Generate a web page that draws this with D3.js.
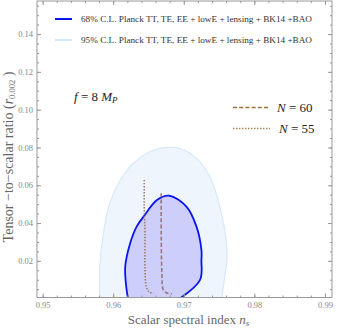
<!DOCTYPE html>
<html>
<head>
<meta charset="utf-8">
<script src="https://cdn.jsdelivr.net/npm/d3@7"></script>
<style>
  body { margin: 0; background: #fff; }
  svg { display: block; }
  text { font-family: "Liberation Serif", "DejaVu Serif", serif; }
</style>
</head>
<body>
<svg id="chart" width="338" height="330"></svg>
<script>
// contours, [n_s, r]
var contour95 = [
  [0.9581, 0.0], [0.9581, 0.0169], [0.9586, 0.0346], [0.9595, 0.0504], [0.9610, 0.0628],
  [0.9628, 0.0716], [0.9652, 0.0777], [0.9672, 0.0799], [0.9694, 0.0795], [0.9718, 0.0742],
  [0.9737, 0.0645], [0.9751, 0.0486], [0.9760, 0.0310], [0.9761, 0.0205], [0.9756, 0.0063],
  [0.9754, 0.0]
];
var contour68 = [
  [0.9621, 0.0], [0.9619, 0.0046], [0.9617, 0.0169], [0.9624, 0.0293], [0.9633, 0.0380],
  [0.9643, 0.0434], [0.9662, 0.0522], [0.9679, 0.0545], [0.9704, 0.0486], [0.9718, 0.0381],
  [0.9725, 0.0257], [0.9725, 0.0205], [0.9723, 0.0099], [0.9694, 0.0]
];
var curveN60 = [
  [0.9668, 0.0557], [0.9668, 0.0346], [0.9669, 0.0134], [0.9671, 0.0046], [0.9676, 0.0030], [0.9683, 0.0025]
];
var curveN55 = [
  [0.9644, 0.0628], [0.9644, 0.0486], [0.9645, 0.0346], [0.9645, 0.0169], [0.9647, 0.0063],
  [0.9651, 0.0035], [0.9657, 0.0029]
];
var xTicks = [0.95, 0.96, 0.97, 0.98, 0.99];
var yTicks = [0.02, 0.04, 0.06, 0.08, 0.10, 0.12, 0.14];
var legendLabels = [
  "68% C.L. Planck TT, TE, EE + lowE + lensing + BK14 +BAO",
  "95% C.L. Planck TT, TE, EE + lowE + lensing + BK14 +BAO"
];
var nLabels = ["60", "55"];

var svg = d3.select("#chart");
var pLeft = 37, pRight = 332, pTop = 1, pBottom = 297.5;

var x = d3.scaleLinear().domain([0.9492, 0.991]).range([pLeft, pRight]);
var y = d3.scaleLinear().domain([0.0006, 0.1575]).range([pBottom, pTop]);

var frameColor = "#999";
var labelColor = "#888";

svg.append("defs").append("clipPath").attr("id", "clip")
  .append("rect").attr("x", pLeft).attr("y", pTop)
  .attr("width", pRight - pLeft).attr("height", pBottom - pTop);

var plot = svg.append("g").attr("clip-path", "url(#clip)");

var area = d3.line()
  .x(function(d) { return x(d[0]); })
  .y(function(d) { return y(d[1]); })
  .curve(d3.curveCatmullRom.alpha(0.5));

plot.append("path").datum(contour95)
  .attr("d", area)
  .attr("fill", "#eef5fd")
  .attr("stroke", "#d6e9fb")
  .attr("stroke-width", 1.2);

plot.append("path").datum(contour68)
  .attr("d", area)
  .attr("fill", "#cdcffa")
  .attr("stroke", "#0a14f0")
  .attr("stroke-width", 1.8);

plot.append("path").datum(curveN55)
  .attr("d", area)
  .attr("fill", "none")
  .attr("stroke", "#9b7e6e")
  .attr("stroke-width", 1.6)
  .attr("stroke-dasharray", "1.5,1.5");

plot.append("path").datum(curveN60)
  .attr("d", area)
  .attr("fill", "none")
  .attr("stroke", "#94787e")
  .attr("stroke-width", 1.6)
  .attr("stroke-dasharray", "4,2.2");

// frame
svg.append("rect")
  .attr("x", pLeft).attr("y", pTop)
  .attr("width", pRight - pLeft).attr("height", pBottom - pTop)
  .attr("fill", "none").attr("stroke", frameColor).attr("stroke-width", 1);

function minors(scale, step) {
  var d = scale.domain(), out = [];
  for (var v = Math.ceil(d[0] / step) * step; v <= d[1]; v += step) out.push(+v.toFixed(4));
  return out;
}

function ticks(axis, pos, vals, size, labels) {
  var g = svg.append("g").attr("transform", pos).call(axis.tickValues(vals).tickSize(size).tickSizeOuter(0)
    .tickPadding(4).tickFormat(labels ? d3.format(".2f") : ""));
  g.select(".domain").remove();
  g.selectAll("line").attr("stroke", frameColor);
  g.selectAll("text").attr("fill", labelColor).attr("font-size", 8.5)
    .attr("font-family", "Liberation Serif, serif");
  return g;
}

ticks(d3.axisBottom(x), "translate(0," + pBottom + ")", minors(x, 0.002), -2, false);
ticks(d3.axisBottom(x), "translate(0," + pBottom + ")", xTicks, -4, true);
ticks(d3.axisTop(x), "translate(0," + pTop + ")", minors(x, 0.002), -2, false);
ticks(d3.axisTop(x), "translate(0," + pTop + ")", xTicks, -4, false);
ticks(d3.axisLeft(y), "translate(" + pLeft + ",0)", minors(y, 0.005), -2, false);
ticks(d3.axisLeft(y), "translate(" + pLeft + ",0)", yTicks, -4, true);
ticks(d3.axisRight(y), "translate(" + pRight + ",0)", minors(y, 0.005), -2, false);
ticks(d3.axisRight(y), "translate(" + pRight + ",0)", yTicks, -4, false);

// axis titles
var xt = svg.append("text").attr("x", (pLeft + pRight) / 2 + 4).attr("y", 324)
  .attr("text-anchor", "middle").attr("font-size", 13).attr("fill", "#666");
xt.append("tspan").text("Scalar spectral index ");
xt.append("tspan").attr("font-style", "italic").text("n");
xt.append("tspan").attr("font-style", "italic").attr("font-size", 9).attr("dy", 2).text("s");

var yt = svg.append("text").attr("transform", "translate(13,157) rotate(-90)")
  .attr("text-anchor", "middle").attr("font-size", 14).attr("fill", "#666");
yt.append("tspan").text("Tensor \u2212to\u2212scalar ratio (");
yt.append("tspan").attr("font-style", "italic").text("r");
yt.append("tspan").attr("font-size", 8.5).attr("dy", 2).text("0.002");
yt.append("tspan").attr("dy", -2).text(" )");

// legend
var legColors = ["#0a14f0", "#d3e8fb"];
legendLabels.forEach(function(t, i) {
  var ly = 19 + i * 21;
  svg.append("line").attr("x1", 55).attr("x2", 72).attr("y1", ly).attr("y2", ly)
    .attr("stroke", legColors[i]).attr("stroke-width", 2);
  svg.append("text").attr("x", 81).attr("y", ly + 3).attr("font-size", 9.2)
    .attr("fill", "#333").text(t);
});

var nDash = ["4,2.2", "1.5,1.5"];
var nColor = ["#a0713e", "#b0874e"];
nLabels.forEach(function(t, i) {
  var ly = 107.5 + i * 21;
  svg.append("line").attr("x1", 233).attr("x2", 270).attr("y1", ly).attr("y2", ly)
    .attr("stroke", nColor[i]).attr("stroke-width", 1.6).attr("stroke-dasharray", nDash[i]);
  var tx = svg.append("text").attr("x", 277 + i * 2).attr("y", ly + 4.5).attr("font-size", 13).attr("fill", "#222");
  tx.append("tspan").attr("font-style", "italic").text("N");
  tx.append("tspan").text(" = " + t);
});

var ft = svg.append("text").attr("x", 74).attr("y", 101).attr("font-size", 13).attr("fill", "#222");
ft.append("tspan").attr("font-style", "italic").text("f");
ft.append("tspan").text(" = 8 ");
ft.append("tspan").attr("font-style", "italic").text("M");
ft.append("tspan").attr("font-style", "italic").attr("font-size", 9).attr("dy", 2).text("P");
</script>
</body>
</html>
